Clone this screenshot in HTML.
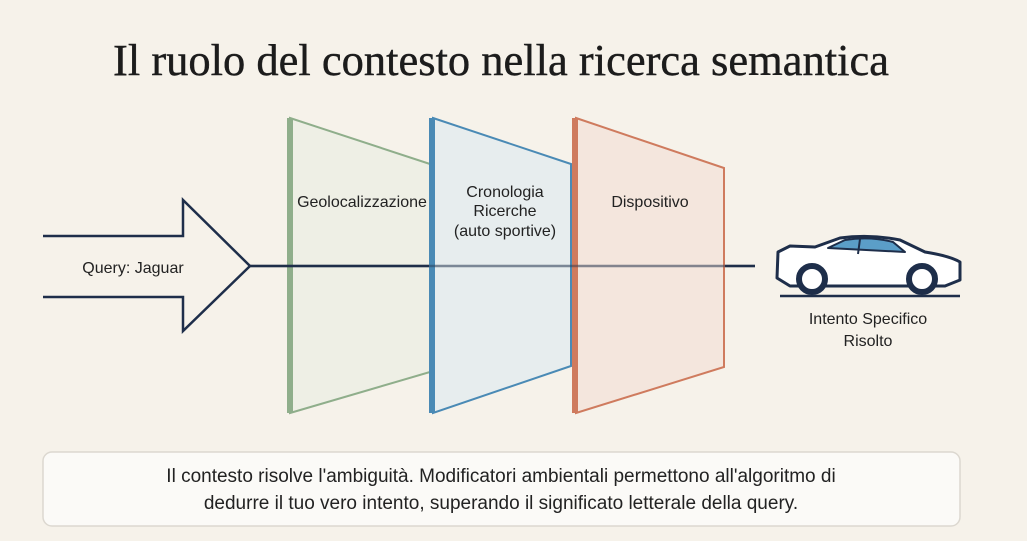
<!DOCTYPE html>
<html><head><meta charset="utf-8"><style>
body{margin:0;width:1027px;height:541px;background:#f6f2ea;overflow:hidden;font-family:"Liberation Sans",sans-serif;}
</style></head><body>
<svg width="1027" height="541" viewBox="0 0 1027 541" style="position:absolute;left:0;top:0">
<text x="501" y="75" text-anchor="middle" font-family="Liberation Serif,serif" font-size="44.5" fill="#1c1c1c" stroke="#1c1c1c" stroke-width="0.4">Il ruolo del contesto nella ricerca semantica</text>
<!-- arrow -->
<path d="M43 236 H183 V200 L250 266 L183 331 V297 H43" fill="none" stroke="#1e2e4a" stroke-width="2.5"/>
<text x="133" y="273" text-anchor="middle" font-size="16" fill="#222">Query: Jaguar</text>
<!-- panels -->
<polygon points="290,118 430,164 430,372 290,413" fill="#eceee4" fill-opacity="0.85" stroke="#8fae8b" stroke-width="2"/>
<rect x="287" y="118" width="6" height="295" fill="#8fae8b"/>
<line x1="250" y1="266" x2="755" y2="266" stroke="#1e2e4a" stroke-width="2.5"/>
<polygon points="433,118 571,164 571,366 433,413" fill="#e4ecef" fill-opacity="0.85" stroke="#4a8ab5" stroke-width="2"/>
<rect x="429" y="118" width="6" height="295" fill="#4a8ab5"/>
<polygon points="576,118 724,168 724,367 576,413" fill="#f3e4da" fill-opacity="0.85" stroke="#cf7b5e" stroke-width="2"/>
<rect x="572" y="118" width="6" height="295" fill="#cf7b5e"/>
<line x1="250" y1="266" x2="755" y2="266" stroke="#1e2e4a" stroke-width="2.5" stroke-opacity="0.45"/>
<text x="362" y="207" text-anchor="middle" font-size="16" fill="#222">Geolocalizzazione</text>
<text x="505" y="197" text-anchor="middle" font-size="16" fill="#222">Cronologia</text>
<text x="505" y="216" text-anchor="middle" font-size="16" fill="#222">Ricerche</text>
<text x="505" y="236" text-anchor="middle" font-size="16" fill="#222">(auto sportive)</text>
<text x="650" y="207" text-anchor="middle" font-size="16" fill="#222">Dispositivo</text>
<!-- car -->
<g stroke="#1e2e4a" stroke-width="3" stroke-linejoin="round">
<path d="M778 252 L790 246 L815 247 L840 238 Q870 234 900 240 L925 252 Q950 256 960 262 L960 280 L945 286 L790 286 L777 278 Z" fill="#fff"/>
<path d="M828 248 L845 240 Q870 236 893 242 L905 252 Z" fill="#5b9ec8" stroke-width="2"/>
<line x1="860" y1="239" x2="858" y2="254" stroke-width="2"/>
<circle cx="812" cy="279" r="13" fill="#fff" stroke-width="6"/>
<circle cx="922" cy="279" r="13" fill="#fff" stroke-width="6"/>
<line x1="780" y1="296" x2="960" y2="296" stroke-width="2.5"/>
</g>
<text x="868" y="324" text-anchor="middle" font-size="16" fill="#222">Intento Specifico</text>
<text x="868" y="346" text-anchor="middle" font-size="16" fill="#222">Risolto</text>
<!-- box -->
<rect x="43" y="452" width="917" height="74" rx="9" fill="#fbfaf7" stroke="#dcd8d0" stroke-width="1.5"/>
<text x="501" y="482" text-anchor="middle" font-size="19" fill="#222">Il contesto risolve l'ambiguità. Modificatori ambientali permettono all'algoritmo di</text>
<text x="501" y="509" text-anchor="middle" font-size="19" fill="#222">dedurre il tuo vero intento, superando il significato letterale della query.</text>
</svg>
</body></html>
